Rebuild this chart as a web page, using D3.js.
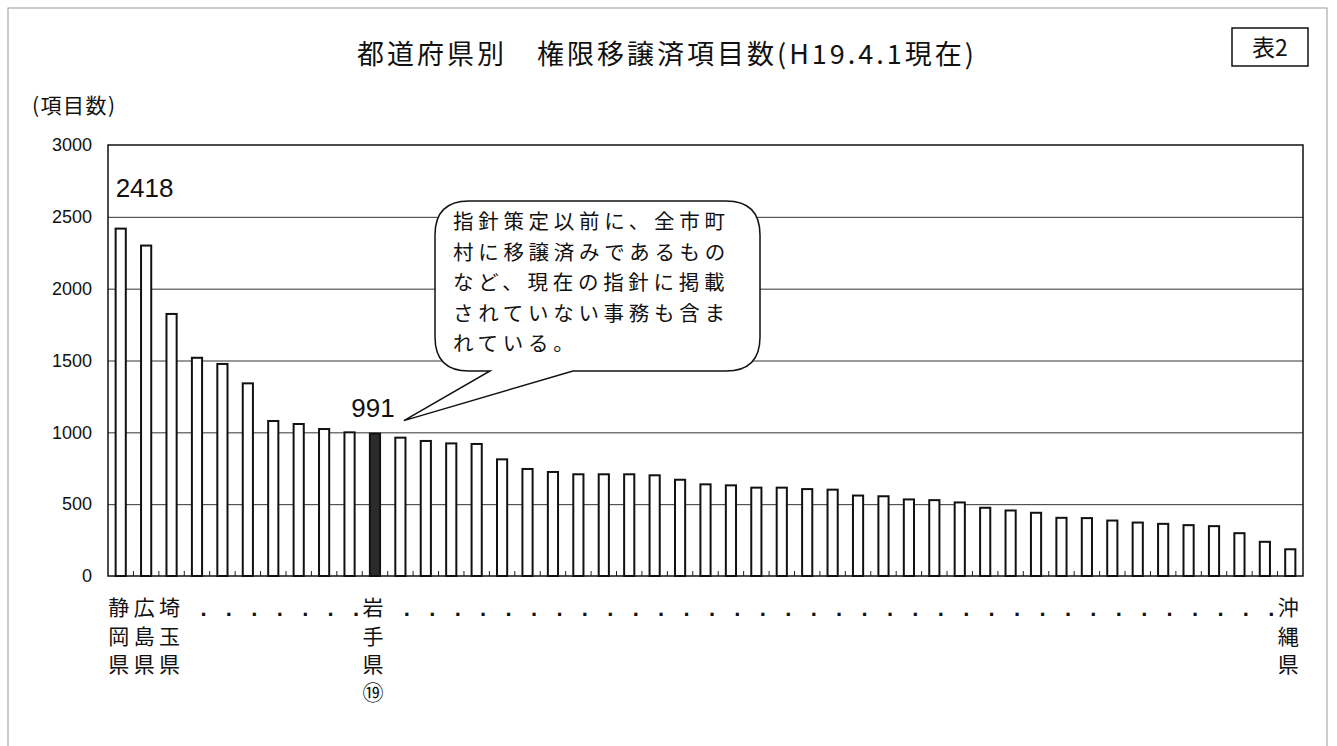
<!DOCTYPE html>
<html>
<head>
<meta charset="utf-8">
<script src="https://cdn.jsdelivr.net/npm/d3@7/dist/d3.min.js"></script>
<style>
  body { margin: 0; background: #fff; }
  svg { display: block; }
</style>
</head>
<body>
<div id="chart"></div>
<script>
// values per prefecture, sorted high to low (47 prefectures)
var values = [2418, 2300, 1824, 1519, 1476, 1341, 1079, 1058, 1023, 1000,
  991, 963, 940, 923, 919, 812, 745, 724, 708, 708,
  708, 701, 670, 638, 631, 615, 615, 605, 601, 560,
  555, 533, 528, 512, 475, 456, 440, 405, 403, 386,
  372, 363, 354, 347, 298, 238, 186];

// only a few bars are named in the picture; the rest get a dot
var prefLabels = ["静岡県", "広島県", "埼玉県", "", "", "", "", "", "", "",
  "岩手県⑲", "", "", "", "", "", "", "", "", "",
  "", "", "", "", "", "", "", "", "", "",
  "", "", "", "", "", "", "", "", "", "",
  "", "", "", "", "", "", "沖縄県"];

var highlightIndex = 10; // 岩手県
var yTicks = [0, 500, 1000, 1500, 2000, 2500, 3000];
var titleText = "都道府県別　権限移譲済項目数(H19.4.1現在)";
var tagText = "表2";
var yTitle = "(項目数)";
var calloutLines = ["指針策定以前に、全市町", "村に移譲済みであるもの",
  "など、現在の指針に掲載", "されていない事務も含ま", "れている。"];

var W = 1337, H = 746;
var plot = { left: 108, right: 1303, top: 145, bottom: 576 };
var jp = "'Noto Sans CJK JP', sans-serif";
var num = "'Liberation Sans', Arial, sans-serif";

var svg = d3.select("#chart").append("svg")
  .attr("width", W)
  .attr("height", H);

// outer page border
svg.append("rect")
  .attr("x", 8).attr("y", 8)
  .attr("width", 1319).attr("height", 760)
  .attr("fill", "none")
  .attr("stroke", "#9a9a9a")
  .attr("stroke-width", 1);

var x = d3.scaleBand()
  .domain(d3.range(values.length))
  .range([plot.left, plot.right])
  .paddingInner(0.6)
  .paddingOuter(0.3);

var y = d3.scaleLinear()
  .domain([0, 3000])
  .range([plot.bottom, plot.top]);

// title
svg.append("text")
  .attr("x", 357).attr("y", 64)
  .attr("font-family", jp)
  .attr("font-size", 27)
  .attr("letter-spacing", 3)
  .attr("fill", "#111")
  .text(titleText);

// 表2 box
svg.append("rect")
  .attr("x", 1232).attr("y", 28)
  .attr("width", 76).attr("height", 38)
  .attr("fill", "#fff")
  .attr("stroke", "#111")
  .attr("stroke-width", 1.5);
svg.append("text")
  .attr("x", 1270).attr("y", 56)
  .attr("text-anchor", "middle")
  .attr("font-family", jp)
  .attr("font-size", 23)
  .attr("fill", "#111")
  .text(tagText);

// y title
svg.append("text")
  .attr("x", 32).attr("y", 113)
  .attr("font-family", jp)
  .attr("font-size", 21)
  .attr("letter-spacing", 1.5)
  .attr("fill", "#111")
  .text(yTitle);

// gridlines
svg.append("g")
  .attr("transform", "translate(" + plot.left + ",0)")
  .call(d3.axisLeft(y).tickValues(yTicks.slice(1, -1))
    .tickSize(-(plot.right - plot.left)).tickFormat(""))
  .call(function (g) { g.select(".domain").remove(); })
  .selectAll("line")
  .attr("stroke", "#333")
  .attr("stroke-width", 1);

// y tick labels
svg.append("g")
  .attr("transform", "translate(" + plot.left + ",0)")
  .call(d3.axisLeft(y).tickValues(yTicks).tickSize(0).tickPadding(16)
    .tickFormat(d3.format("d")))
  .call(function (g) { g.select(".domain").remove(); })
  .selectAll("text")
  .attr("font-family", num)
  .attr("font-size", 18)
  .attr("fill", "#111");

// small inner ticks between bars
var step = x.step();
svg.append("g")
  .selectAll("line")
  .data(d3.range(1, values.length))
  .enter()
  .append("line")
  .attr("x1", function (d) { return x(d) - step * x.paddingInner() / 2; })
  .attr("x2", function (d) { return x(d) - step * x.paddingInner() / 2; })
  .attr("y1", plot.bottom)
  .attr("y2", plot.bottom - 5)
  .attr("stroke", "#222")
  .attr("stroke-width", 1);

// bars
svg.append("g")
  .selectAll("rect")
  .data(values)
  .enter()
  .append("rect")
  .attr("x", function (d, i) { return x(i); })
  .attr("y", function (d) { return y(d); })
  .attr("width", x.bandwidth())
  .attr("height", function (d) { return plot.bottom - y(d); })
  .attr("fill", function (d, i) { return i === highlightIndex ? "#2b2b2b" : "#fff"; })
  .attr("stroke", "#111")
  .attr("stroke-width", 2);

// plot frame
svg.append("rect")
  .attr("x", plot.left).attr("y", plot.top)
  .attr("width", plot.right - plot.left)
  .attr("height", plot.bottom - plot.top)
  .attr("fill", "none")
  .attr("stroke", "#111")
  .attr("stroke-width", 1.5);

// value labels
svg.append("text")
  .attr("x", x(0)).attr("y", 197)
  .attr("font-family", num)
  .attr("font-size", 26)
  .attr("fill", "#111")
  .text(values[0]);
svg.append("text")
  .attr("x", x(highlightIndex) + x.bandwidth() / 2 - 2)
  .attr("y", y(values[highlightIndex]) - 17)
  .attr("text-anchor", "middle")
  .attr("font-family", num)
  .attr("font-size", 26)
  .attr("fill", "#111")
  .text(values[highlightIndex]);

// category labels: vertical characters or dots
var rowY = [615, 644, 672, 700];
var lab = svg.append("g");
prefLabels.forEach(function (name, i) {
  var cx = x(i) + x.bandwidth() / 2;
  if (name === "") {
    lab.append("text")
      .attr("x", cx + 6.5).attr("y", 616)
      .attr("text-anchor", "middle")
      .attr("font-family", num)
      .attr("font-weight", "bold")
      .attr("font-size", 22)
      .attr("fill", "#111")
      .text(".");
  } else {
    Array.from(name).forEach(function (ch, k) {
      lab.append("text")
        .attr("x", cx - 2).attr("y", rowY[k])
        .attr("text-anchor", "middle")
        .attr("font-family", jp)
        .attr("font-size", 21)
        .attr("fill", "#111")
        .text(ch);
    });
  }
});

// callout bubble
var bx0 = 435, by0 = 201, bx1 = 760, by1 = 371, r = 34;
var tipX = x(highlightIndex) + 34, tipY = y(values[highlightIndex]) - 13;
var path = d3.path();
path.moveTo(bx0 + r, by0);
path.lineTo(bx1 - r, by0);
path.quadraticCurveTo(bx1, by0, bx1, by0 + r);
path.lineTo(bx1, by1 - r);
path.quadraticCurveTo(bx1, by1, bx1 - r, by1);
path.lineTo(573, by1);
path.lineTo(tipX, tipY);
path.lineTo(490, by1);
path.lineTo(bx0 + r, by1);
path.quadraticCurveTo(bx0, by1, bx0, by1 - r);
path.lineTo(bx0, by0 + r);
path.quadraticCurveTo(bx0, by0, bx0 + r, by0);
path.closePath();
svg.append("path")
  .attr("d", path.toString())
  .attr("fill", "#fff")
  .attr("stroke", "#111")
  .attr("stroke-width", 1.5);

svg.append("g")
  .selectAll("text")
  .data(calloutLines)
  .enter()
  .append("text")
  .attr("x", 453)
  .attr("y", function (d, i) { return 229 + i * 30.5; })
  .attr("font-family", jp)
  .attr("font-size", 20.5)
  .attr("letter-spacing", 4.7)
  .attr("fill", "#111")
  .text(function (d) { return d; });
</script>
</body>
</html>
